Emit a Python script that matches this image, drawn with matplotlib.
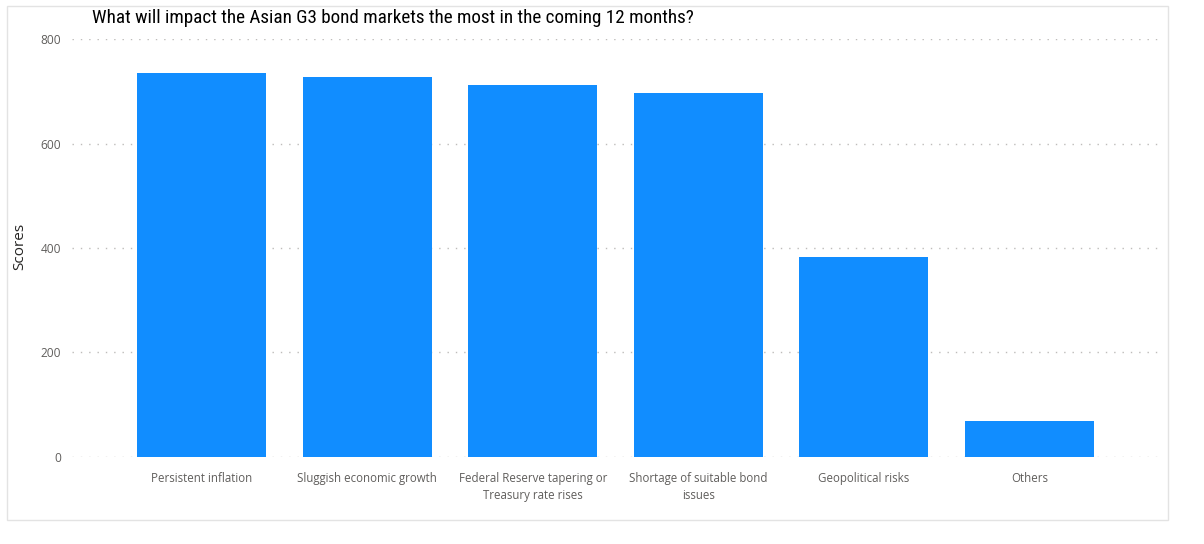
import matplotlib
matplotlib.use("Agg")
import matplotlib.pyplot as plt
from matplotlib.patches import Rectangle

# Survey data
categories = [
    "Persistent inflation",
    "Sluggish economic growth",
    "Federal Reserve tapering or\nTreasury rate rises",
    "Shortage of suitable bond\nissues",
    "Geopolitical risks",
    "Others",
]
scores = [735, 727, 712, 697, 382, 69]
y_ticks = [0, 200, 400, 600, 800]

title_text = "What will impact the Asian G3 bond markets the most in the coming 12 months?"
y_label = "Scores"

BAR_COLOR = "#118DFF"
TICK_COLOR = "#605E5C"
GRID_COLOR = "#BEBCBA"
TEXT_DARK = "#252423"
UI_FONT = ["Open Sans", "Noto Sans", "DejaVu Sans"]
TITLE_FONT = ["Roboto Condensed", "Liberation Sans Narrow", "Roboto", "DejaVu Sans"]

W, H = 1204, 544
fig = plt.figure(figsize=(W / 100, H / 100), dpi=100)
fig.patch.set_facecolor("white")

def px(x, y):
    """Pixel position (from top-left) to figure fraction."""
    return x / W, 1 - y / H

# light frame around the visual
x0, y0 = px(7, 520)
x1, y1 = px(1168, 6)
fig.patches.append(Rectangle((x0, y0), x1 - x0, y1 - y0, transform=fig.transFigure,
                             fill=False, edgecolor="#E3E3E3", linewidth=1.0))

left, right = 72, 1163
top, bottom = 39.3, 456.7
ax = fig.add_axes([left / W, 1 - bottom / H, (right - left) / W, (bottom - top) / H])

xs = list(range(len(categories)))
ax.bar(xs, scores, width=0.78, color=BAR_COLOR, zorder=3)

ax.set_xlim(-0.784, 5.808)
ax.set_ylim(0, 800)
ax.set_yticks(y_ticks)
ax.set_yticklabels([str(v) for v in y_ticks])
ax.set_xticks(xs)
ax.set_xticklabels(categories, linespacing=1.4)

for s in ax.spines.values():
    s.set_visible(False)
ax.tick_params(axis="both", length=0, colors=TICK_COLOR)
ax.tick_params(axis="y", pad=8, labelsize=8.6)
ax.tick_params(axis="x", pad=10.8, labelsize=8.3)
for lab in ax.get_xticklabels() + ax.get_yticklabels():
    lab.set_family(UI_FONT)

ax.yaxis.grid(True, color=GRID_COLOR, linestyle=(0, (1, 5)), linewidth=1.0, zorder=0)
ax.set_axisbelow(True)

# axis title
fx, fy = px(20, 246)
fig.text(fx, fy, y_label, rotation=90, ha="center", va="center",
         color=TEXT_DARK, fontsize=11, family=UI_FONT)

# chart title, sized to its span
tx, ty = px(92, 22.7)
t = fig.text(tx, ty, title_text, ha="left", va="baseline", color="#000000",
             fontsize=12.7, family=TITLE_FONT)
fig.canvas.draw()
w = t.get_window_extent(fig.canvas.get_renderer()).width
t.set_fontsize(12.7 * 603 / w)

fig.savefig("out.png", dpi=100, facecolor="white")
